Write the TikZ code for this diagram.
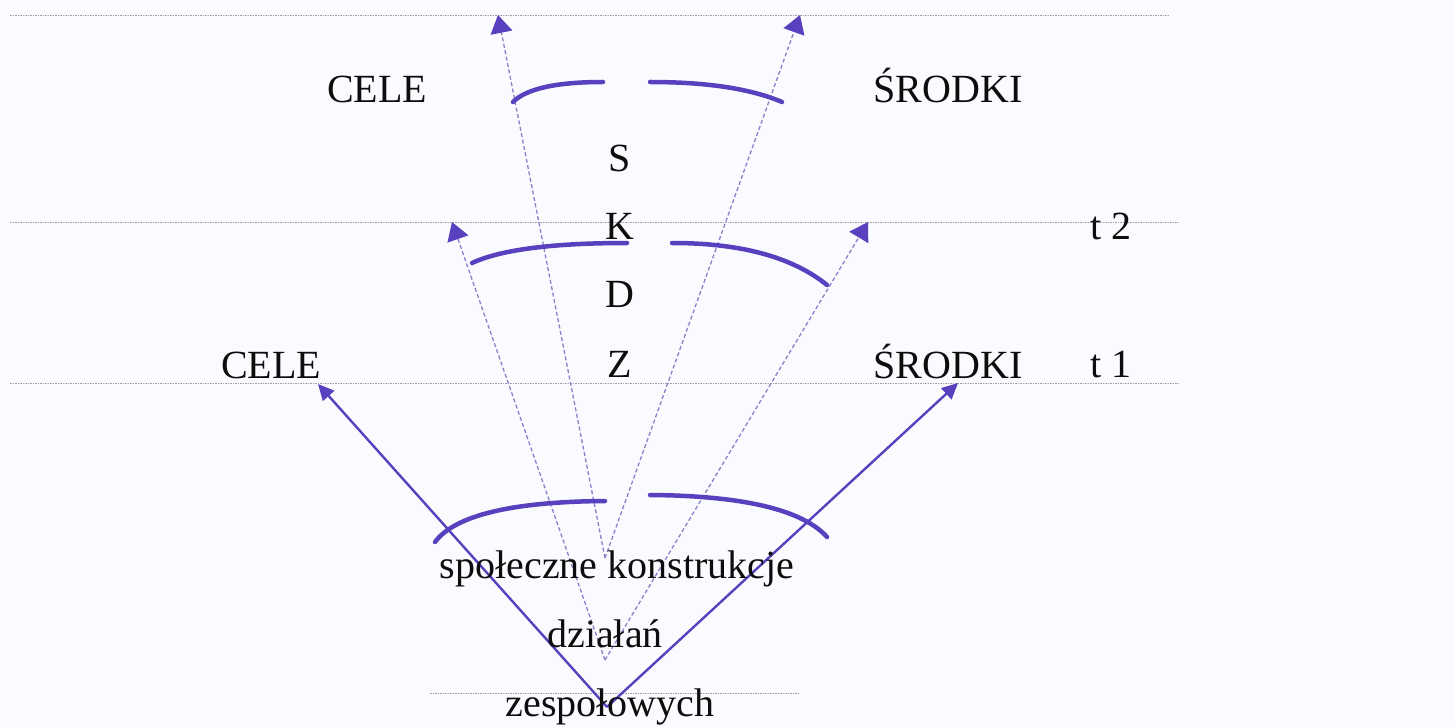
\documentclass[tikz,border=0pt]{standalone}
\usepackage{fontspec}
\setmainfont{Liberation Serif}
\usetikzlibrary{arrows.meta}
\definecolor{ink}{RGB}{88,64,190}
\definecolor{dashink}{RGB}{140,128,205}
\definecolor{rulegray}{RGB}{160,160,172}
\definecolor{paper}{RGB}{250,251,254}
\tikzset{
  lbl/.style={anchor=base, inner sep=0pt, font=\fontsize{40}{48}\selectfont, text=black!95},
  arcline/.style={draw=ink, line width=4.5pt, line cap=round},
  solidarrow/.style={draw=ink, line width=2.4pt, -{Triangle[length=16pt,width=15pt,color=ink]}},
  dasharrow/.style={draw=dashink, line width=1.3pt, dash pattern=on 4pt off 2.5pt, -{Triangle[length=18pt,width=22pt,color=ink]}},
  faint/.style={draw=rulegray, line width=0.9pt, dash pattern=on 1.5pt off 1pt},
}
\begin{document}
\begin{tikzpicture}[x=1pt,y=-1pt]
\fill[paper] (0,0) rectangle (1455,727);
\useasboundingbox (0,0) rectangle (1455,727);

% faint ruled lines
\coordinate (r1a) at (10,15);   \coordinate (r1b) at (1170,15);
\coordinate (r2a) at (10,222);  \coordinate (r2b) at (1178,222);
\coordinate (r3a) at (10,383);  \coordinate (r3b) at (1178,383);
\coordinate (r4a) at (430,693); \coordinate (r4b) at (800,693);
\draw[faint] (r1a) -- (r1b);
\draw[faint] (r2a) -- (r2b);
\draw[faint] (r3a) -- (r3b);
\draw[faint] (r4a) -- (r4b);

% origins and tips
\coordinate (oin) at (605,558);
\coordinate (oout) at (605,660);
\coordinate (osol) at (607,707);
\coordinate (tTL) at (498,15);
\coordinate (tTR) at (800,15);
\coordinate (tML) at (452,222);
\coordinate (tMR) at (868,222);
\coordinate (tCL) at (318,384);
\coordinate (tCR) at (958,383);

% dashed arrows
\draw[dasharrow] (oin) -- (tTL);
\draw[dasharrow] (oin) -- (tTR);
\draw[dasharrow] (oout) -- (tML);
\draw[dasharrow] (oout) -- (tMR);

% arcs
\draw[arcline] (513,102) .. controls (526.3,88.7) and (556.3,82) .. (603,82);
\draw[arcline] (650,82) .. controls (706.7,82) and (750.7,88.7) .. (782,102);
\draw[arcline] (472,263) .. controls (500.7,249.7) and (552.3,243) .. (627,243);
\draw[arcline] (672,243) .. controls (740.7,243) and (792.3,257) .. (827,285);
\draw[arcline] (435,542) .. controls (455,515.3) and (511.7,501.7) .. (605,501);
\draw[arcline] (650,495) .. controls (743.3,495.7) and (802.3,509.7) .. (827,537);

% solid arrows
\draw[solidarrow] (osol) -- (tCL);
\draw[solidarrow] (osol) -- (tCR);

% labels
\node[lbl] (cele2) at (377,103) {CELE};
\node[lbl] (srodki2) at (948,103) {ŚRODKI};
\node[lbl] (s) at (620,172) {S};
\node[lbl] (k) at (620,240) {K};
\node[lbl] (t2) at (1111,240) {t 2};
\node[lbl] (d) at (620,307) {D};
\node[lbl] (cele1) at (271,378) {CELE};
\node[lbl] (z) at (620,377) {Z};
\node[lbl] (srodki1) at (948,378) {ŚRODKI};
\node[lbl] (t1) at (1111,377) {t 1};
\node[lbl] (spol) at (617,578) {społeczne konstrukcje};
\node[lbl] (dzial) at (605,647) {działań};
\node[lbl] (zesp) at (610,716) {zespołowych};
\end{tikzpicture}
\end{document}
